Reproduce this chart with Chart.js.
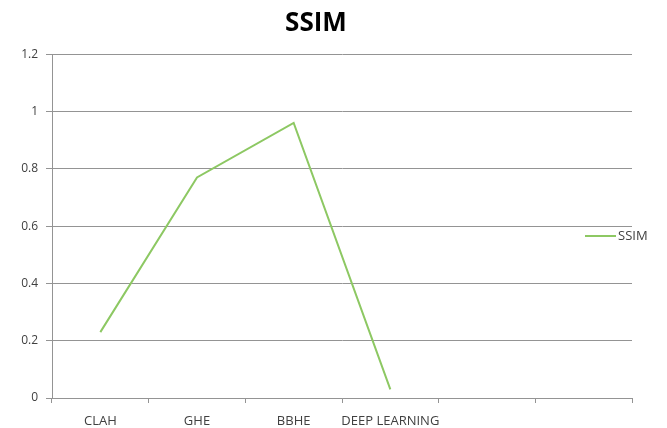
<!DOCTYPE html>
<html>
<head>
<meta charset="utf-8">
<script src="https://cdn.jsdelivr.net/npm/chart.js@4/dist/chart.umd.min.js"></script>
<style>
html,body{margin:0;padding:0;background:#fff;}
#wrap{width:667px;height:428px;position:relative;}
</style>
</head>
<body>
<div id="wrap"><canvas id="c" width="667" height="428"></canvas></div>
<script>
const categories = ["CLAH", "GHE", "BBHE", "DEEP LEARNING", "", ""];
const ssimValues = [0.23, 0.77, 0.96, 0.03, null, null];
const seriesName = "SSIM";
const chartTitle = "SSIM";
const yTicks = [0, 0.2, 0.4, 0.6, 0.8, 1, 1.2];

const lineColor = "#8DC863";
const gridColor = "#949494";
const textColor = "#404040";
const FONT = "'Open Sans', 'Liberation Sans', sans-serif";

const customLegend = {
  id: "customLegend",
  afterDraw(chart) {
    const ctx = chart.ctx;
    const ds = chart.data.datasets[0];
    const y = 236;
    ctx.save();
    ctx.strokeStyle = ds.borderColor;
    ctx.lineWidth = 2;
    ctx.beginPath();
    ctx.moveTo(585, y);
    ctx.lineTo(616, y);
    ctx.stroke();
    ctx.fillStyle = textColor;
    ctx.font = "13px " + FONT;
    ctx.textBaseline = "middle";
    ctx.textAlign = "left";
    ctx.fillText(ds.label, 618, y);
    ctx.restore();
  }
};

new Chart(document.getElementById("c"), {
  type: "line",
  data: {
    labels: categories,
    datasets: [{
      label: seriesName,
      data: ssimValues,
      borderColor: lineColor,
      backgroundColor: lineColor,
      borderWidth: 2,
      pointRadius: 0,
      tension: 0,
      spanGaps: false
    }]
  },
  options: {
    responsive: false,
    animation: false,
    devicePixelRatio: 1,
    layout: { padding: { top: 8, right: 35, left: 0, bottom: 0 } },
    plugins: {
      legend: { display: false },
      tooltip: { enabled: false },
      title: {
        display: true,
        text: chartTitle,
        color: "#000",
        font: { family: FONT, size: 26, weight: "bold" },
        padding: { top: 0, bottom: 15 }
      }
    },
    scales: {
      x: {
        offset: true,
        grid: {
          offset: true,
          drawOnChartArea: false,
          drawTicks: true,
          tickLength: 5,
          color: gridColor,
          lineWidth: 1
        },
        border: { display: true, color: gridColor, width: 1 },
        ticks: {
          color: textColor,
          font: { family: FONT, size: 13 },
          padding: 10,
          maxRotation: 0,
          autoSkip: false
        },
        afterFit(scale) { scale.height = 30; }
      },
      y: {
        min: 0,
        max: 1.2,
        afterBuildTicks(scale) { scale.ticks = yTicks.map(v => ({ value: v })); },
        grid: {
          color: gridColor,
          lineWidth: 1,
          drawTicks: true,
          tickLength: 6
        },
        border: { display: true, color: gridColor, width: 1 },
        ticks: {
          color: textColor,
          font: { family: FONT, size: 12 },
          padding: 8,
          callback: v => String(v)
        },
        afterFit(scale) { scale.width = 52; }
      }
    }
  },
  plugins: [customLegend]
});
</script>
</body>
</html>
